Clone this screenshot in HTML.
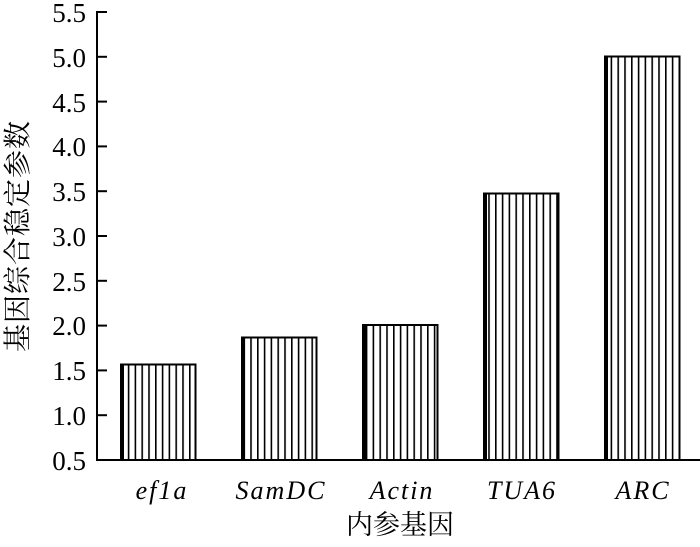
<!DOCTYPE html>
<html><head><meta charset="utf-8"><style>body{margin:0;background:#fff}</style></head><body>
<svg width="700" height="542" xmlns="http://www.w3.org/2000/svg" font-family="Liberation Serif, Noto Serif CJK SC, serif">
<defs><pattern id="p" width="6.8" height="10" patternUnits="userSpaceOnUse" x="121"><rect x="0" y="0" width="1.6" height="10" fill="#000"/></pattern></defs>
<g stroke="#000" stroke-width="2" fill="none">
<line x1="97" y1="11" x2="97" y2="461"/>
<line x1="96" y1="460" x2="700" y2="460"/>
<line x1="97" y1="12" x2="107" y2="12"/><line x1="97" y1="56.8" x2="107" y2="56.8"/><line x1="97" y1="101.6" x2="107" y2="101.6"/><line x1="97" y1="146.4" x2="107" y2="146.4"/><line x1="97" y1="191.2" x2="107" y2="191.2"/><line x1="97" y1="236" x2="107" y2="236"/><line x1="97" y1="280.8" x2="107" y2="280.8"/><line x1="97" y1="325.6" x2="107" y2="325.6"/><line x1="97" y1="370.4" x2="107" y2="370.4"/><line x1="97" y1="415.2" x2="107" y2="415.2"/>
</g>
<g stroke="#000" stroke-width="2">
<rect x="121" y="364.5" width="74.5" height="95.5" fill="url(#p)"/>
<rect x="242" y="337.5" width="74.5" height="122.5" fill="url(#p)"/>
<rect x="363" y="325" width="74.5" height="135" fill="url(#p)"/>
<rect x="484" y="193.5" width="74.5" height="266.5" fill="url(#p)"/>
<rect x="605" y="56.5" width="74.5" height="403.5" fill="url(#p)"/>
</g>
<g fill="#000"><rect x="121" y="364" width="3" height="96"/><rect x="242" y="337" width="3" height="123"/><rect x="363" y="325" width="3" height="135"/><rect x="484" y="193" width="3" height="267"/><rect x="605" y="56" width="3" height="404"/></g>
<g font-size="27" text-anchor="end" fill="#000">
<text x="86" y="22">5.5</text><text x="86" y="67">5.0</text><text x="86" y="112">4.5</text><text x="86" y="156">4.0</text><text x="86" y="201">3.5</text><text x="86" y="246">3.0</text><text x="86" y="291">2.5</text><text x="86" y="335">2.0</text><text x="86" y="380">1.5</text><text x="86" y="425">1.0</text><text x="86" y="470">0.5</text>
</g>
<g font-size="26" font-style="italic" text-anchor="middle" fill="#000" letter-spacing="2">
<text x="162" y="499">ef1a</text><text x="281" y="499">SamDC</text><text x="402" y="499">Actin</text><text x="522" y="499">TUA6</text><text x="643" y="499">ARC</text>
</g>
<text x="400" y="534" font-size="27" text-anchor="middle">内参基因</text>
<text transform="translate(27,236) rotate(-90)" font-size="28" text-anchor="middle" letter-spacing="1">基因综合稳定参数</text>
</svg>
</body></html>
